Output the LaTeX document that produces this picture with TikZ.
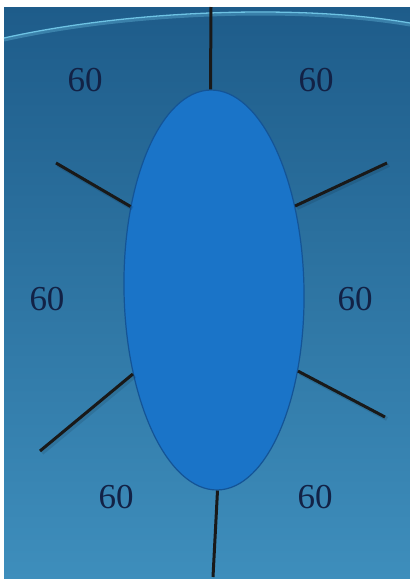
\documentclass[tikz,border=0pt]{standalone}
\usepackage{fontspec}
\setmainfont{Liberation Serif}
\usetikzlibrary{shapes.geometric}
\definecolor{bgtop}{RGB}{30,92,138}
\definecolor{bgbot}{RGB}{62,142,188}
\definecolor{ellfill}{RGB}{26,116,200}
\definecolor{elldraw}{RGB}{20,84,150}
\definecolor{lbl}{RGB}{18,34,70}
\definecolor{arcc}{RGB}{110,195,228}
\tikzset{
  spoke/.style={line width=3pt,black!90},
  spokeshadow/.style={line width=4pt,black,opacity=0.1},
  lbltext/.style={text=lbl,font=\fontsize{35}{40}\selectfont,inner sep=0pt}
}
\begin{document}
\begin{tikzpicture}[x=1pt,y=-1pt]
\useasboundingbox (0,0) rectangle (410,579);
\fill[white] (0,0) rectangle (410,579);
\shade[top color=bgtop,bottom color=bgbot] (4,7) rectangle (410,579);
% light arc at the top
\draw[arcc,line width=3pt,opacity=0.35] (4,40) .. controls (130,12) and (300,6) .. (410,25);
\draw[arcc,line width=1.3pt] (4,38) .. controls (130,10) and (300,4) .. (410,23);
% ellipse
\node (e) [ellipse,draw=elldraw,line width=1.2pt,fill=ellfill,minimum width=180pt,minimum height=400pt,inner sep=0pt,rotate=1] at (214,290) {};
% outer ends
\coordinate (t) at (211,7);
\coordinate (ul) at (56,163);
\coordinate (ur) at (387,163);
\coordinate (ll) at (40,451);
\coordinate (lr) at (385,417);
\coordinate (b) at (213,577);
% faint shadows
\draw[spokeshadow] ([shift={(2,2)}]e.134) -- ([shift={(2,2)}]ul);
\draw[spokeshadow] ([shift={(2,2)}]e.45) -- ([shift={(2,2)}]ur);
\draw[spokeshadow] ([shift={(2,2)}]e.225) -- ([shift={(2,2)}]ll);
\draw[spokeshadow] ([shift={(2,2)}]e.315) -- ([shift={(2,2)}]lr);
% spokes
\draw[spoke] (e.north) -- (t);
\draw[spoke] (e.134) -- (ul);
\draw[spoke] (e.45) -- (ur);
\draw[spoke] (e.225) -- (ll);
\draw[spoke] (e.315) -- (lr);
\draw[spoke] (e.south) -- (b);
% labels
\node (l1) [lbltext] at (85,80) {60};
\node (l2) [lbltext] at (316,80) {60};
\node (l3) [lbltext] at (47,299) {60};
\node (l4) [lbltext] at (355,299) {60};
\node (l5) [lbltext] at (116,497) {60};
\node (l6) [lbltext] at (315,497) {60};
\end{tikzpicture}
\end{document}
